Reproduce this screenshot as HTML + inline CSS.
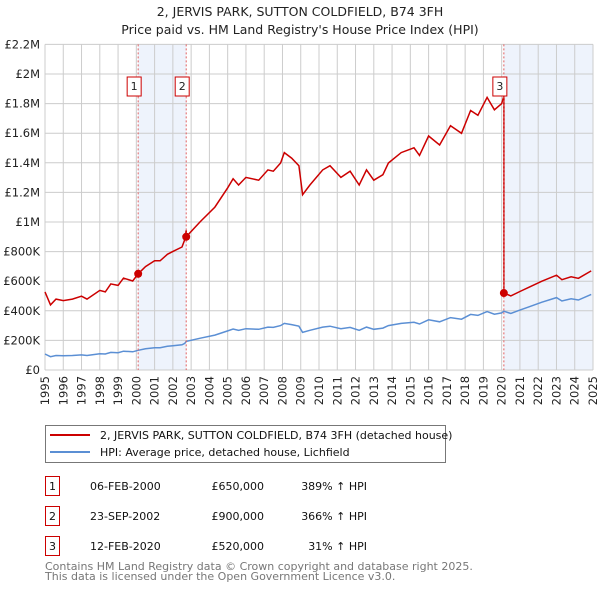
<!DOCTYPE html>
<html><head><meta charset="utf-8"><style>
body{margin:0;background:#fff;font-family:"Liberation Sans","DejaVu Sans",sans-serif;}
svg text{font-family:"DejaVu Sans","Liberation Sans",sans-serif;}
</style></head><body>
<svg id="chart" width="600" height="590" xmlns="http://www.w3.org/2000/svg">
<text x="300" y="16" text-anchor="middle" font-size="12.5" fill="#222">2, JERVIS PARK, SUTTON COLDFIELD, B74 3FH</text>
<text x="300" y="34" text-anchor="middle" font-size="12.5" fill="#222">Price paid vs. HM Land Registry's House Price Index (HPI)</text>
<g id="bands"></g><g id="grid"></g><g id="series"></g><g id="marks"></g>
<rect x="45.5" y="425.5" width="400" height="37" fill="#fff" stroke="#777"/>
<line x1="50" y1="435" x2="90" y2="435" stroke="#cc0000" stroke-width="2"/>
<text x="100" y="439" font-size="11" fill="#111">2, JERVIS PARK, SUTTON COLDFIELD, B74 3FH (detached house)</text>
<line x1="50" y1="452" x2="90" y2="452" stroke="#5b8fd4" stroke-width="2"/>
<text x="100" y="456" font-size="11" fill="#111">HPI: Average price, detached house, Lichfield</text>
<g id="table"></g>
<text x="45" y="570" font-size="11" fill="#777">Contains HM Land Registry data © Crown copyright and database right 2025.</text>
<text x="45" y="580" font-size="11" fill="#777">This data is licensed under the Open Government Licence v3.0.</text>
</svg>
<script>
const hpiYears=[1995.0,1995.3,1995.6,1996,1996.5,1997,1997.3,1998,1998.3,1998.6,1999,1999.3,1999.8,2000.1,2000.5,2001,2001.3,2001.7,2002,2002.5,2002.65,2002.73,2003.5,2004.3,2005.0,2005.3,2005.6,2006,2006.7,2007.2,2007.5,2007.9,2008.1,2008.5,2008.9,2009.1,2009.5,2010.2,2010.6,2011.2,2011.7,2012.2,2012.6,2013.0,2013.5,2013.8,2014.5,2015.2,2015.5,2016,2016.6,2017.2,2017.8,2018.3,2018.7,2019.2,2019.6,2020.0,2020.12,2020.5,2021,2021.5,2022.2,2023.0,2023.3,2023.8,2024.2,2024.9];
const hpiValues=[108,90,98,96,98,102,98,110,108,119,117,127,123,133,143,151,151,160,164,170,180,193,215,236,264,277,268,279,275,290,288,300,315,307,296,254,268,290,296,279,288,268,290,275,283,300,315,322,311,339,326,354,343,376,369,395,377,386,397,382,405,427,458,489,466,481,473,511];
const saleYears=[2000.1,2002.73,2020.12];
const salePrices=[650000,900000,520000];
const saleLabels=["1","2","3"];
const saleDates=["06-FEB-2000","23-SEP-2002","12-FEB-2020"];
const salePriceText=["£650,000","£900,000","£520,000"];
const salePctText=["389% ↑ HPI","366% ↑ HPI","31% ↑ HPI"];
const yTicks=[0,200000,400000,600000,800000,1000000,1200000,1400000,1600000,1800000,2000000,2200000];
const yTickLabels=["£0","£200K","£400K","£600K","£800K","£1M","£1.2M","£1.4M","£1.6M","£1.8M","£2M","£2.2M"];

const X0=45,X1=593,Y0=370,Y1=44.4,XMIN=1995,XMAX=2025,YMAX=2200000;
const xs=y=>X0+(y-XMIN)/(XMAX-XMIN)*(X1-X0);
const ys=v=>Y0-v/YMAX*(Y0-Y1);
const NS="http://www.w3.org/2000/svg";
function mk(tag,parent,attrs){const e=document.createElementNS(NS,tag);for(const k in attrs)e.setAttribute(k,attrs[k]);document.getElementById(parent).appendChild(e);return e;}

let b1=mk('rect','bands',{x:xs(saleYears[0]),y:Y1,width:xs(saleYears[1])-xs(saleYears[0]),height:Y0-Y1,fill:'#eef3fc'});


let b2=mk('rect','bands',{x:xs(saleYears[2]),y:Y1,width:X1-xs(saleYears[2]),height:Y0-Y1,fill:'#eef3fc'});



for(let yr=XMIN;yr<=XMAX;yr++){
  let l=mk('line','grid',{x1:xs(yr),x2:xs(yr),y1:Y1,y2:Y0,stroke:'#cccccc','stroke-width':1});
  
  
  const tx=xs(yr)+4, ty=376;
  let t=mk('text','grid',{x:tx,y:ty,'text-anchor':'end','font-size':11.5,fill:'#222'});
  t.setAttribute('transform','rotate(-90 '+tx.toFixed(1)+' '+ty+')');
  t.style.transformBox='view-box';
  t.textContent=yr;
  
  
}
yTicks.forEach((v,i)=>{
  let l=mk('line','grid',{x1:X0,x2:X1,y1:ys(v),y2:ys(v),stroke:'#cccccc','stroke-width':1});
  
  
  let t=mk('text','grid',{x:40,y:ys(v)+4,'text-anchor':'end','font-size':11.5,fill:'#222'});
  t.textContent=yTickLabels[i];
  
  
});

let hp=hpiYears.map((y,i)=>`${xs(y).toFixed(1)},${ys(hpiValues[i]*1000).toFixed(1)}`).join(' ');
let hl=mk('polyline','series',{points:hp,fill:'none',stroke:'#5b8fd4','stroke-width':1.5});



function hpiAt(y){for(let i=1;i<hpiYears.length;i++){if(y<=hpiYears[i]){const t=(y-hpiYears[i-1])/(hpiYears[i]-hpiYears[i-1]);return hpiValues[i-1]+t*(hpiValues[i]-hpiValues[i-1]);}}return hpiValues[hpiValues.length-1];}
const ratios=saleYears.map((y,i)=>salePrices[i]/(hpiAt(y)*1000));
let pts=[];
hpiYears.forEach((y,i)=>{
  let k=0;for(let j=0;j<saleYears.length;j++)if(y>=saleYears[j])k=j;
  if(i>0){saleYears.forEach((sy,j)=>{if(j>0&&sy>hpiYears[i-1]&&sy<=y){pts.push([sy,hpiAt(sy)*1000*ratios[j-1]]);}});}
  pts.push([y,hpiValues[i]*1000*ratios[k]]);
});
let rl=mk('polyline','series',{points:pts.map(p=>`${xs(p[0]).toFixed(1)},${ys(p[1]).toFixed(1)}`).join(' '),fill:'none',stroke:'#cc0000','stroke-width':1.5});



saleYears.forEach((y,i)=>{
  let l=mk('line','marks',{x1:xs(y),x2:xs(y),y1:Y1,y2:Y0,stroke:'#e06060','stroke-width':1,'stroke-dasharray':'2,2'});
  
  
  let c=mk('circle','marks',{cx:xs(y),cy:ys(salePrices[i]),r:4,fill:'#cc0000'});
  
  
  let r=mk('rect','marks',{x:xs(y)-11,y:77,width:14,height:19,fill:'#fff',stroke:'#cc0000'});
  
  
  let t=mk('text','marks',{x:xs(y)-4,y:90,'text-anchor':'middle','font-size':11,fill:'#222'});
  t.textContent=saleLabels[i];
  
  
});

saleLabels.forEach((lab,i)=>{
  const yy=476+i*30;
  let r=mk('rect','table',{x:45.5,y:yy+0.5,width:14,height:19,fill:'#fff',stroke:'#cc0000'});
  
  
  let t=mk('text','table',{x:52.5,y:yy+14,'text-anchor':'middle','font-size':11,fill:'#111'});t.textContent=lab;
  
  
  let d=mk('text','table',{x:90,y:yy+14,'font-size':11,fill:'#111'});d.textContent=saleDates[i];
  
  
  let p=mk('text','table',{x:264,y:yy+14,'text-anchor':'end','font-size':11,fill:'#111'});p.textContent=salePriceText[i];
  
  
  let h=mk('text','table',{x:367,y:yy+14,'text-anchor':'end','font-size':11,fill:'#111'});h.textContent=salePctText[i];
  
  
});
</script>
</body></html>
